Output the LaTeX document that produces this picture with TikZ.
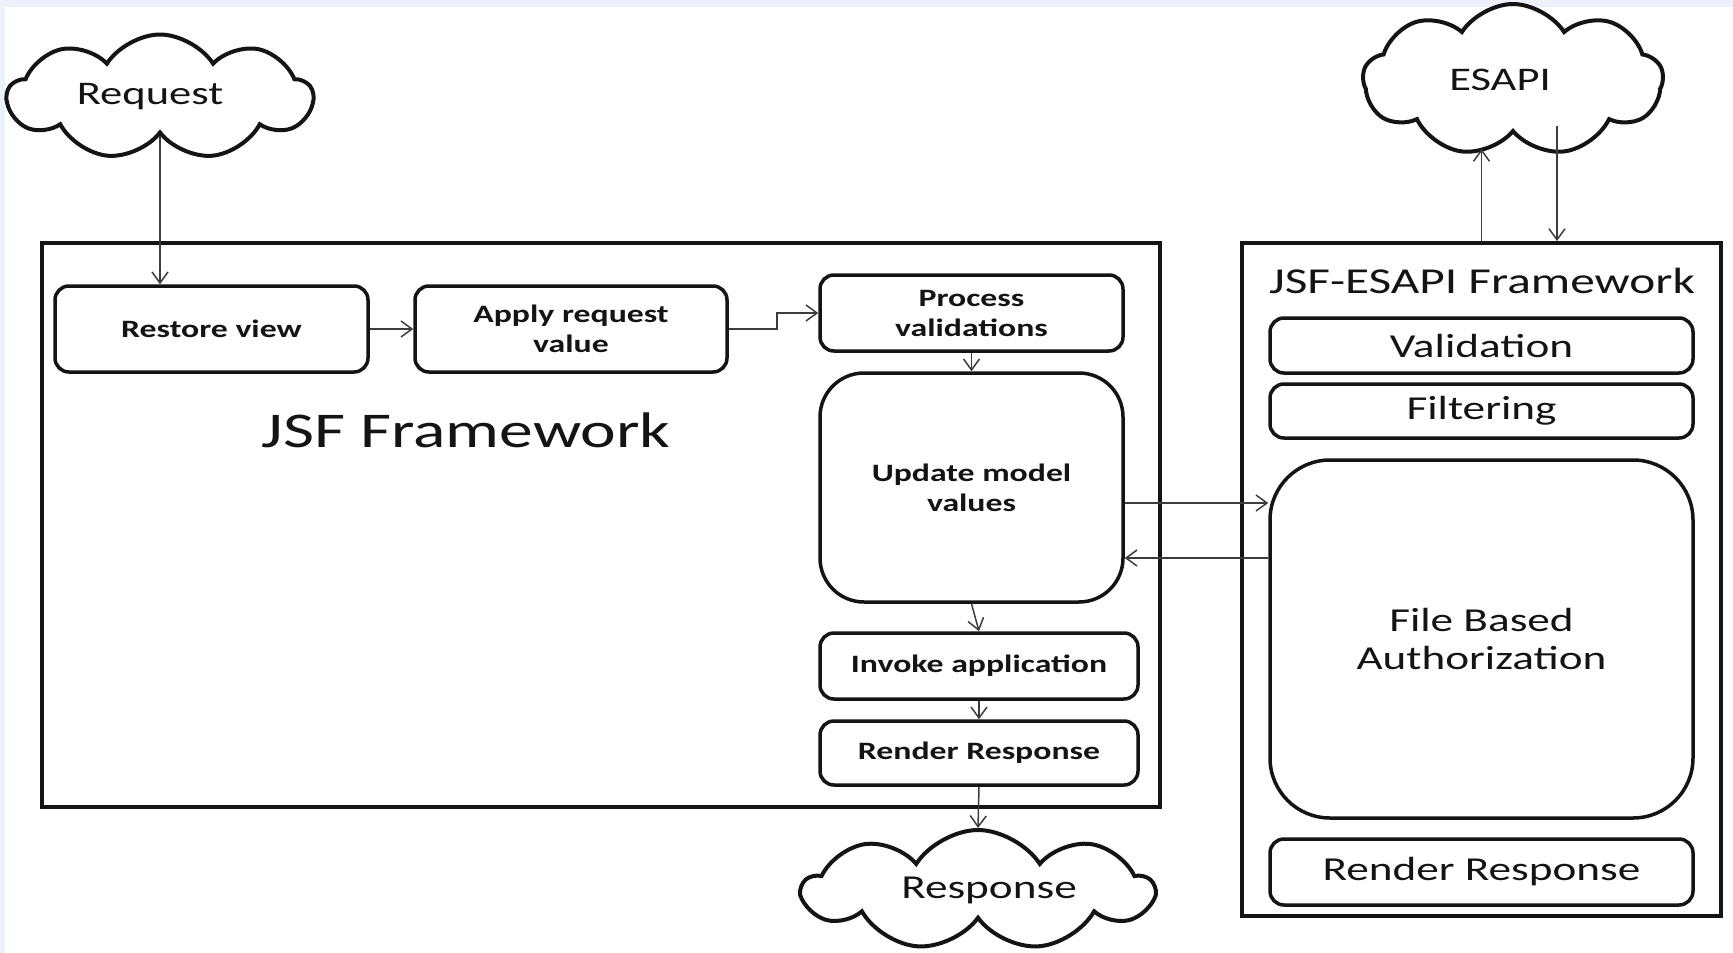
\documentclass[tikz,border=0pt]{standalone}
\usepackage{fontspec}
\setmainfont{Carlito}[FakeStretch=1.35]
\usetikzlibrary{shapes.symbols,arrows.meta,calc}
\definecolor{lav}{RGB}{238,240,250}
\definecolor{ink}{RGB}{20,20,20}
\definecolor{wire}{RGB}{60,60,60}
\begin{document}
\begin{tikzpicture}[x=1pt,y=-1pt,
  frame/.style={draw=ink,line width=4pt,inner sep=0pt},
  stage/.style={draw=ink,line width=3.5pt,rounded corners=14pt,align=center,font=\fontsize{25}{30}\selectfont\bfseries,text=ink,inner sep=0pt},
  part/.style={draw=ink,line width=3.5pt,rounded corners=14pt,align=center,font=\fontsize{33.5}{38}\selectfont,text=ink,inner sep=0pt},
  puff/.style={cloud,cloud ignores aspect,draw=ink,line width=4pt,cloud puffs=9,cloud puff arc=115,inner sep=0pt,text=ink},
  arr/.style={draw=wire,line width=1.5pt,-{Straight Barb[length=11pt,width=16pt]}}]
\fill[lav] (0,0) rectangle (1733,953);
\fill[white] (5,7) rectangle (1733,953);
\useasboundingbox (0,0) rectangle (1733,953);

% frames
\node[frame,minimum width=1118pt,minimum height=564pt] (jsf) at (601,525) {};
\node[frame,minimum width=479pt,minimum height=673pt] (rbox) at (1481.5,579.5) {};
\node[font=\fontsize{50}{60}\selectfont,text=ink,anchor=base] (jsflbl) at (466,447) {JSF Framework};
\node[font=\fontsize{36.5}{42}\selectfont,text=ink,anchor=base] (rlbl) at (1482,293) {JSF-ESAPI Framework};

% clouds
\node[puff,minimum width=305pt,minimum height=125pt,font=\fontsize{33}{38}\selectfont] (req) at (160,97) {\hspace*{-20pt}Request};
\node[puff,minimum width=300pt,minimum height=152pt,font=\fontsize{33}{40}\selectfont] (esapi) at (1513,80) {\hspace*{-26pt}ESAPI};
\node[puff,minimum width=350pt,minimum height=120pt,font=\fontsize{33.5}{38}\selectfont] (resp) at (978,890) {Response\hspace*{-22pt}};

% JSF stages
\node[stage,minimum width=313pt,minimum height=86pt] (restore) at (211.5,329) {Restore view};
\node[stage,minimum width=312pt,minimum height=86pt] (apply) at (571,329) {Apply request\\value};
\node[stage,minimum width=303pt,minimum height=76pt] (process) at (971.5,313) {Process\\validations};
\node[stage,minimum width=303pt,minimum height=229pt,rounded corners=44pt] (update) at (971.5,487.5) {Update model\\values};
\node[stage,minimum width=318pt,minimum height=66pt] (invoke) at (979,666) {Invoke application};
\node[stage,minimum width=318pt,minimum height=64pt] (renderl) at (979,753) {Render Response};

% ESAPI parts
\node[part,minimum width=423pt,minimum height=55pt] (valid) at (1481.5,345.5) {Validation};
\node[part,minimum width=423pt,minimum height=54pt] (filter) at (1481.5,411) {Filtering};
\node[part,minimum width=423pt,minimum height=358pt,rounded corners=60pt] (fb) at (1481.5,639) {File Based\\Authorization};
\node[part,minimum width=423pt,minimum height=66pt] (renderr) at (1481.5,872) {Render Response};

% connectors
\draw[arr] (req.south) -- (req.south |- restore.north);
\draw[arr] (restore.east) -- (apply.west);
\draw[arr] (apply.east) -- ++(48,0) |- (process.west);
\draw[arr] (process.south) -- (update.north);
\draw[arr] (update.south) -- (invoke.north);
\draw[arr] (invoke.south) -- (renderl.north);
\draw[arr] (renderl.south) -- (resp.north);
\coordinate (u1) at ($(update.east)+(0,15.5)$);
\coordinate (u2) at ($(update.east)+(0,70.5)$);
\draw[arr] (u1) -- (u1 -| fb.west);
\draw[arr] (u2 -| fb.west) -- (u2);
\coordinate (e1) at ($(rbox.north)+(0,-92)$);
\coordinate (d1) at ($(rbox.north)+(75.5,-115)$);
\draw[arr] (rbox.north) -- (e1);
\draw[arr] (d1) -- (d1 |- rbox.north);
\end{tikzpicture}
\end{document}
